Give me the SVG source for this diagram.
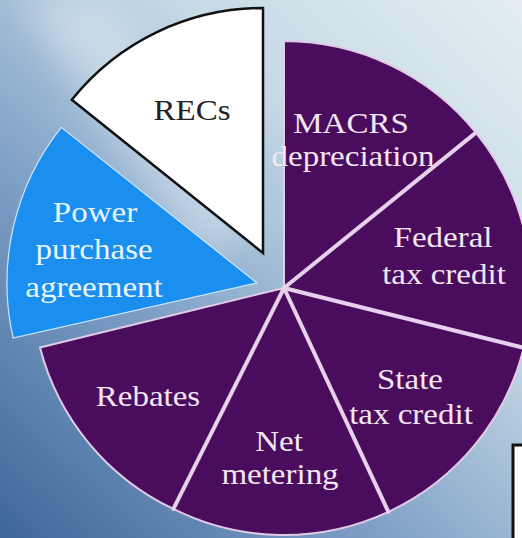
<svg xmlns="http://www.w3.org/2000/svg" width="522" height="538" viewBox="0 0 522 538">
<defs>
<linearGradient id="bg" x1="0" y1="538" x2="522" y2="0" gradientUnits="userSpaceOnUse">
<stop offset="0" stop-color="#3f6699"/>
<stop offset="0.35" stop-color="#7d9fc6"/>
<stop offset="0.68" stop-color="#c6d9e5"/>
<stop offset="1" stop-color="#e3edf1"/>
</linearGradient>
<filter id="blur" x="-50%" y="-50%" width="200%" height="200%"><feGaussianBlur stdDeviation="18"/></filter>
<style>
.purple{fill:#4a0c5c;stroke:#e2cbe6;stroke-width:2}
.div{stroke:#e6d0ea;stroke-width:4;stroke-linecap:round}
.lbl{font-family:"Liberation Serif","Times New Roman",serif;font-size:30px;text-anchor:middle}
.onp{fill:#f2e6f2}
.onb{fill:#e9f5ff}
.onw{fill:#222222}
</style>
</defs>
<rect width="522" height="538" fill="url(#bg)"/>
<polygon points="20,0 110,0 260,230 200,260" fill="#ffffff" opacity="0.35" filter="url(#blur)"/>
<rect x="513" y="445" width="30" height="110" fill="#ffffff" stroke="#111111" stroke-width="3"/>

<g id="recs">
<path d="M263,253 L71.8,99.8 A245,245 0 0 1 263,8 Z" fill="#ffffff" stroke="#111111" stroke-width="2.5" stroke-linejoin="miter"/>
<text class="lbl onw" transform="translate(192,120) scale(1.1 1)">RECs</text>
</g>
<g id="ppa">
<path d="M257,283 L13.1,338 A250,250 0 0 1 61.3,127.4 Z" fill="#1a8ff0" stroke="#cfe6fa" stroke-width="1.2"/>
<text class="lbl onb" transform="translate(95,222) scale(1.1 1)">Power</text>
<text class="lbl onb" transform="translate(94,259) scale(1.1 1)">purchase</text>
<text class="lbl onb" transform="translate(94,297) scale(1.1 1)">agreement</text>
</g>
<g id="macrs">
<path class="purple" d="M284,288 L284,41 A247,247 0 0 1 475.9,132.6 Z"/>
<text class="lbl onp" transform="translate(351,133) scale(1.1 1)">MACRS</text>
<text class="lbl onp" transform="translate(353,166) scale(1.1 1)">depreciation</text>
</g>
<g id="federal">
<path class="purple" d="M284,288 L475.9,132.6 A247,247 0 0 1 523.7,347.8 Z"/>
<text class="lbl onp" transform="translate(443,247) scale(1.1 1)">Federal</text>
<text class="lbl onp" transform="translate(444,284) scale(1.1 1)">tax credit</text>
</g>
<g id="state">
<path class="purple" d="M284,288 L523.7,347.8 A247,247 0 0 1 388.4,511.9 Z"/>
<text class="lbl onp" transform="translate(410,389) scale(1.1 1)">State</text>
<text class="lbl onp" transform="translate(411,424) scale(1.1 1)">tax credit</text>
</g>
<g id="net-metering">
<path class="purple" d="M284,288 L388.4,511.9 A247,247 0 0 1 173.4,508.9 Z"/>
<text class="lbl onp" transform="translate(279,451) scale(1.1 1)">Net</text>
<text class="lbl onp" transform="translate(280,484) scale(1.1 1)">metering</text>
</g>
<g id="rebates">
<path class="purple" d="M284,288 L173.4,508.9 A247,247 0 0 1 40,347.5 Z"/>
<text class="lbl onp" transform="translate(148,406) scale(1.1 1)">Rebates</text>
</g>
<g id="connectors">
<line class="div" x1="284" y1="288" x2="475.9" y2="132.6"/>
<line class="div" x1="284" y1="288" x2="523.7" y2="347.8"/>
<line class="div" x1="284" y1="288" x2="388.4" y2="511.9"/>
<line class="div" x1="284" y1="288" x2="173.4" y2="508.9"/>
</g>
</svg>
